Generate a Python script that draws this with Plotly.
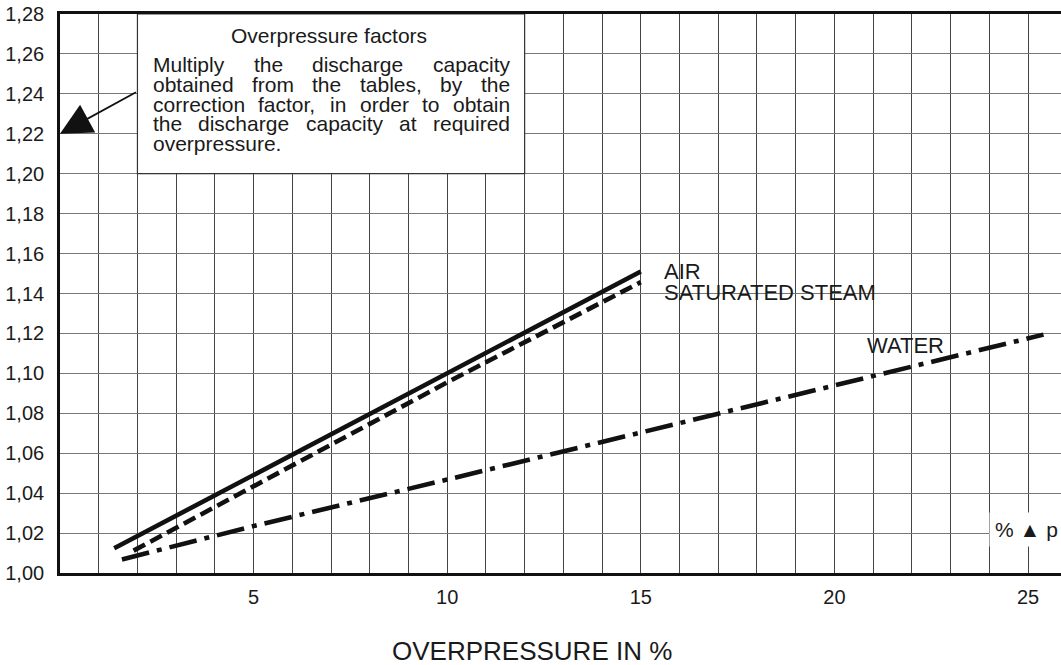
import plotly.graph_objects as go

# ---------------- data ----------------
air_x = [1.4, 15.0]
air_y = [1.0124, 1.151]

steam_x = [1.9, 5.0, 10.0, 15.0]
steam_y = [1.0112, 1.0435, 1.0955, 1.1457]

water_x = [1.6, 5.0, 10.0, 15.0, 20.0, 25.4]
water_y = [1.0068, 1.0235, 1.0468, 1.0705, 1.0940, 1.1194]

x_grid_vals = list(range(0, 27))
x_label_vals = [5, 10, 15, 20, 25]
y_tick_vals = [1.00, 1.02, 1.04, 1.06, 1.08, 1.10, 1.12, 1.14, 1.16, 1.18, 1.20, 1.22, 1.24, 1.26, 1.28]
y_tick_text = ["1,00", "1,02", "1,04", "1,06", "1,08", "1,10", "1,12", "1,14", "1,16", "1,18",
               "1,20", "1,22", "1,24", "1,26", "1,28"]

series_labels = ["AIR", "SATURATED STEAM", "WATER"]
box_title = "Overpressure factors"
box_lines = [
    "Multiply the discharge capacity",
    "obtained from the tables, by the",
    "correction factor, in order to obtain",
    "the discharge capacity at required",
    "overpressure.",
]
x_title = "OVERPRESSURE IN %"
dp_label = "% ▲ p"

# ---------------- layout constants ----------------
W, H = 1061, 665
ML, MR, MT, MB = 60, 0, 14, 92
PW, PH = W - ML - MR, H - MT - MB
FONT = "Liberation Sans, Arial, Helvetica, sans-serif"

def px2paper_x(px):
    return (px - ML) / PW

def px2paper_y(py):
    return (H - MB - py) / PH

# Arial-compatible advance widths (per 1000 em)
AW = {c: 556 for c in "abdeghnopqu"}
AW.update({"c": 500, "f": 278, "i": 222, "j": 222, "k": 500, "l": 222, "m": 833,
           "r": 333, "s": 500, "t": 278, "v": 500, "w": 722, "x": 500, "y": 500,
           "z": 500, "M": 833, ",": 278, ".": 278, " ": 278})

def text_w(s, size):
    return sum(AW.get(ch, 556) for ch in s) * size / 1000.0

fig = go.Figure()

line_w = 4.6
fig.add_trace(go.Scatter(x=air_x, y=air_y, mode="lines",
                         line=dict(color="#111111", width=line_w), showlegend=False))
fig.add_trace(go.Scatter(x=steam_x, y=steam_y, mode="lines",
                         line=dict(color="#111111", width=line_w, dash="13px,6px"),
                         showlegend=False))
fig.add_trace(go.Scatter(x=water_x, y=water_y, mode="lines",
                         line=dict(color="#111111", width=line_w, dash="28px,8px,5px,8px"),
                         showlegend=False))

annotations = []
TXT = "#1a1a1a"

# series labels
lab_pos = [(663, 271.5), (663, 292.5), (866, 345)]
for txt, (px, py) in zip(series_labels, lab_pos):
    annotations.append(dict(x=px2paper_x(px), y=px2paper_y(py), xref="paper", yref="paper",
                            text=txt, showarrow=False, xanchor="left", yanchor="middle",
                            borderpad=0,
                            font=dict(family=FONT, size=22, color=TXT)))

# box text
BOX_FS = 21
annotations.append(dict(x=px2paper_x(329), y=px2paper_y(35), xref="paper", yref="paper",
                        text=box_title, showarrow=False, xanchor="center", yanchor="middle",
                        borderpad=0,
                        font=dict(family=FONT, size=BOX_FS, color=TXT)))
left_px, right_px = 152, 509
line_centers = [64, 84, 104, 124, 144]
for i, (ln, cy) in enumerate(zip(box_lines, line_centers)):
    words = ln.split(" ")
    if i == len(box_lines) - 1 or len(words) == 1:
        annotations.append(dict(x=px2paper_x(left_px), y=px2paper_y(cy), xref="paper", yref="paper",
                                text=ln, showarrow=False, xanchor="left", yanchor="middle",
                                borderpad=0,
                                font=dict(family=FONT, size=BOX_FS, color=TXT)))
        continue
    widths = [text_w(w_, BOX_FS) for w_ in words]
    gap = (right_px - left_px - sum(widths)) / (len(words) - 1)
    cur = left_px
    for w_, ww in zip(words, widths):
        annotations.append(dict(x=px2paper_x(cur), y=px2paper_y(cy), xref="paper", yref="paper",
                                text=w_, showarrow=False, xanchor="left", yanchor="middle",
                                borderpad=0,
                                font=dict(family=FONT, size=BOX_FS, color=TXT)))
        cur += ww + gap

# arrow from box to y axis
annotations.append(dict(x=0, y=1.22, xref="x", yref="y", ax=2.0, ay=1.2412, axref="x", ayref="y",
                        text="", showarrow=True, arrowhead=2, arrowsize=3.5, arrowwidth=1.8,
                        arrowcolor="#111111", standoff=0))

# % delta p label
annotations.append(dict(x=px2paper_x(1026), y=px2paper_y(529), xref="paper", yref="paper",
                        text=dp_label, showarrow=False, xanchor="center", yanchor="middle",
                        bgcolor="white", borderpad=5,
                        font=dict(family=FONT, size=21, color=TXT)))

# x title
annotations.append(dict(x=px2paper_x(531.5), y=px2paper_y(651), xref="paper", yref="paper",
                        text=x_title, showarrow=False, xanchor="center", yanchor="middle",
                        font=dict(family=FONT, size=26, color=TXT)))

shapes = [dict(type="rect", xref="x", yref="y", x0=2, x1=12, y0=1.20, y1=1.28,
               fillcolor="white", line=dict(color="#333333", width=1.2), layer="above")]

x_tick_text = [str(v) if v in x_label_vals else "" for v in x_grid_vals]

fig.update_layout(
    width=W, height=H, autosize=False,
    margin=dict(l=ML, r=MR, t=MT, b=MB, pad=0),
    paper_bgcolor="white", plot_bgcolor="white",
    font=dict(family=FONT, size=20, color=TXT),
    annotations=annotations, shapes=shapes,
    xaxis=dict(range=[0, PW / 38.72], tickmode="array", tickvals=x_grid_vals, ticktext=x_tick_text,
               showgrid=True, gridcolor="#444444", gridwidth=1.2, zeroline=False,
               showline=True, linecolor="#111111", linewidth=2.6, mirror=True,
               ticks="", ticklabelstandoff=4, tickfont=dict(size=20)),
    yaxis=dict(range=[1.0, 1.28], tickmode="array", tickvals=y_tick_vals, ticktext=y_tick_text,
               showgrid=True, gridcolor="#777777", gridwidth=1.2, zeroline=False,
               showline=True, linecolor="#111111", linewidth=2.6,
               ticks="", ticklabelstandoff=9, tickfont=dict(size=20)),
)

fig.write_html("out.html", config={"displayModeBar": False},
               post_script="document.body.style.margin='0px';document.body.style.overflow='hidden';")
